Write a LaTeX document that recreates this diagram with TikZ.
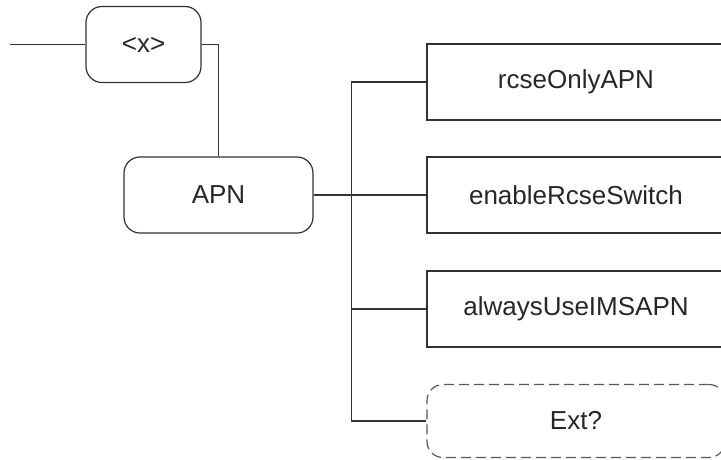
\documentclass[tikz,border=0pt]{standalone}
\usepackage{fontspec}
\setmainfont{Liberation Sans}
\usetikzlibrary{positioning}
\colorlet{mmline}{black!80}
\colorlet{mmtext}{black!85}
\tikzset{
  mmelem/.style={
    draw=mmline,
    line width=1.2pt,
    align=center,
    inner sep=0pt,
    text=mmtext,
    minimum height=76pt,
    font=\fontsize{26}{30}\selectfont
  },
  mmroot/.style={mmelem,rounded corners=16pt},
  mmleaf/.style={mmelem,minimum width=298pt},
  mmopt/.style={mmleaf,rounded corners=16pt,minimum height=73pt,
                draw=black!65,dash pattern=on 10pt off 5pt},
  mmwire/.style={mmline,line width=1.2pt}
}

\begin{document}
\begin{tikzpicture}[x=1pt,y=-1pt]
  \useasboundingbox (0,0) rectangle (721,459);

  \coordinate (start) at (10,44.5);
  \node[mmroot,minimum width=115pt] (xelem) at (143.5,44.5) {<x>};
  \node[mmroot,minimum width=189pt] (apn) at (218.5,195) {APN};

  \node[mmleaf] (rcse) at (576,82) {rcseOnlyAPN};
  \node[mmleaf] (enable) at (576,195) {enableRcseSwitch};
  \node[mmleaf] (always) at (576,309) {alwaysUseIMSAPN};
  \node[mmopt] (ext) at (576,421) {Ext?};

  \draw[mmwire] (start) -- (xelem.west);
  \draw[mmwire] (xelem.east) -| (apn.north);
  \foreach \leaf in {rcse,enable,always,ext}{
    \draw[mmwire] (apn.east) -- ++(38,0) |- (\leaf.west);
  }
\end{tikzpicture}
\end{document}
